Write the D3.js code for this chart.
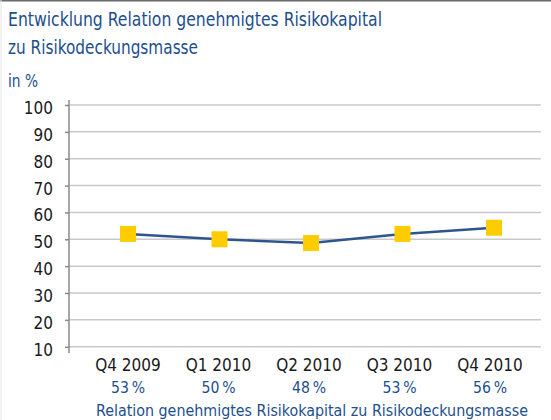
<!DOCTYPE html>
<html><head><meta charset="utf-8">
<script src="https://cdn.jsdelivr.net/npm/d3@7"></script>
<style>
html,body{margin:0;padding:0;background:#fff;}
svg{display:block;}
text{font-family:"DejaVu Sans Condensed","Liberation Sans Narrow","Open Sans",sans-serif;}
</style></head>
<body><svg id="chart" width="551" height="420"></svg>
<script>
const categories = ["Q4 2009","Q1 2010","Q2 2010","Q3 2010","Q4 2010"];
const values = [52, 50, 48.6, 52, 54.3];
const valueLabels = ["53\u2009%","50\u2009%","48\u2009%","53\u2009%","56\u2009%"];
const yTicks = [10,20,30,40,50,60,70,80,90,100];
const titleLines = ["Entwicklung Relation genehmigtes Risikokapital","zu Risikodeckungsmasse"];
const unitLabel = "in %";
const seriesName = "Relation genehmigtes Risikokapital zu Risikodeckungsmasse";

(function(){
const svg = d3.select("#chart");
const blue = "#1d4f8e";
const pl = 69, pr = 541, pt = 105, pb = 346.7;

svg.append("line").attr("x1",0).attr("x2",551).attr("y1",0.75).attr("y2",0.75).attr("stroke","#6b6b6b").attr("stroke-width",1.5);
svg.append("line").attr("x1",1).attr("x2",1).attr("y1",0).attr("y2",420).attr("stroke","#e6e6e6").attr("stroke-width",1);

const titleW = [374, 190];
svg.selectAll("text.title").data(titleLines).join("text")
  .attr("class","title").attr("x",8).attr("y",(d,i)=>25.5+i*28)
  .attr("fill",blue).attr("font-size",20)
  .attr("textLength",(d,i)=>titleW[i]).attr("lengthAdjust","spacingAndGlyphs").text(d=>d);
svg.append("text").attr("x",8).attr("y",87).attr("fill",blue).attr("font-size",17)
  .attr("textLength",30).attr("lengthAdjust","spacingAndGlyphs").text(unitLabel);

const y = d3.scaleLinear().domain([10,100]).range([pb, pt]);
const x = d3.scalePoint().domain(categories).range([128, 494]);

svg.append("g").selectAll("line").data(yTicks).join("line")
  .attr("x1",pl).attr("x2",pr).attr("y1",d=>y(d)).attr("y2",d=>y(d))
  .attr("stroke","#c9c9c9").attr("stroke-width",1.5);

const yAxis = svg.append("g").attr("transform",`translate(${pl},0)`)
  .call(d3.axisLeft(y).tickValues(yTicks).tickSize(4).tickPadding(12));
yAxis.select(".domain").remove();
yAxis.append("line").attr("x1",0).attr("x2",0).attr("y1",100).attr("y2",353).attr("stroke","#8a8a8a").attr("stroke-width",1.5);
yAxis.selectAll(".tick line").attr("stroke","#8a8a8a").attr("stroke-width",1.5);
yAxis.selectAll(".tick text").attr("font-size",17).attr("fill","#1a1a1a").attr("dy","0.5em")
  .attr("font-family","'DejaVu Sans Condensed',sans-serif");

const line = d3.line().x((d,i)=>x(categories[i])).y(d=>y(d));
svg.append("path").datum(values).attr("d",line).attr("fill","none")
  .attr("stroke","#2f5590").attr("stroke-width",2.5);

const ms = 16;
svg.append("g").selectAll("rect").data(values).join("rect")
  .attr("x",(d,i)=>x(categories[i])-ms/2).attr("y",d=>y(d)-ms/2)
  .attr("width",ms).attr("height",ms).attr("fill","#ffcc00");

const xl = d3.scalePoint().domain(categories).range([128, 490]);
svg.append("g").selectAll("text").data(categories).join("text")
  .attr("x",d=>xl(d)).attr("y",371).attr("text-anchor","middle")
  .attr("font-size",17).attr("fill","#1a1a1a").text(d=>d);
svg.append("g").selectAll("text").data(valueLabels).join("text")
  .attr("x",(d,i)=>xl(categories[i])).attr("y",392.5).attr("text-anchor","middle")
  .attr("font-size",16.5).attr("fill",blue)
  .attr("textLength",34).attr("lengthAdjust","spacingAndGlyphs").text(d=>d);
svg.append("text").attr("x",312).attr("y",416).attr("text-anchor","middle")
  .attr("font-size",16.5).attr("fill",blue)
  .attr("textLength",432).attr("lengthAdjust","spacingAndGlyphs").text(seriesName);
})();
</script></body></html>
